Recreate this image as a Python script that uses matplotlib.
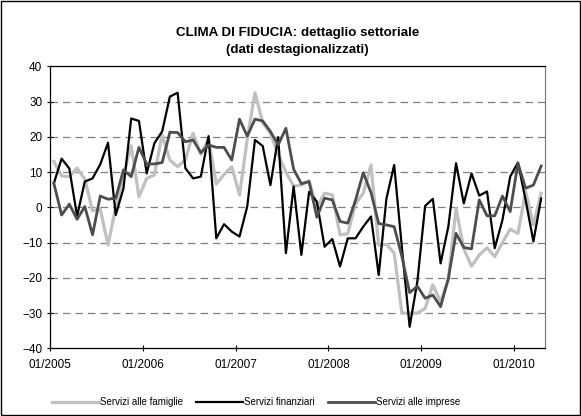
import matplotlib
matplotlib.use("Agg")
from matplotlib import pyplot as plt
from matplotlib.patches import Rectangle

plt.rcParams['font.family'] = ['Liberation Sans', 'DejaVu Sans']

# === Data (monthly, 01/2005 - 04/2010) ===
tick_labels = ["01/2005", "01/2006", "01/2007", "01/2008", "01/2009", "01/2010"]
series_names = ["Servizi alle famiglie", "Servizi finanziari", "Servizi alle imprese"]

famiglie = [13, 8.9, 8.7, 11.1, 8, -1, -0.5, -10.7, 0, 9, 17.4, 3,
            8.2, 9.2, 20.5, 13.4, 11.5, 13.5, 21, 15, 19.5, 6.6, 9.3, 11.5,
            3.5, 19.3, 32.5, 24, 21, 15, 10, 6, 6.3, 7.5, 0, 4,
            3.5, -7.8, -7.5, 1, 4, 12, -10.8, -10.5, -13, -30, -30, -30,
            -28.7, -22, -26.8, -20.6, -0.3, -11.8, -16.7, -13.5, -11.5, -14, -10, -6.2,
            -7.4, 4.5, -5, 4]

finanziari = [6.8, 13.8, 11, -2.5, 7.3, 8.2, 12.2, 18.3, -2.2, 5.4, 25.2, 24.5,
              9.6, 18.2, 21.5, 31.4, 32.5, 11.1, 8.2, 8.7, 20.2, -8.8, -4.8, -6.9,
              -8.3, 0.2, 19.1, 17.4, 6.3, 19.9, -13, 5.9, -13.5, 4.4, 1.6, -11.2,
              -9, -16.8, -8.8, -8.8, -5.5, -2.6, -19.2, 2.5, 12, -11.5, -33.9, -21,
              0.4, 2.4, -15.9, -5.5, 12.5, 1.1, 9.6, 3.3, 4.5, -11.6, -3.6, 8.7,
              12.7, 2, -9.7, 2.5]

imprese = [6.8, -2.2, 0.9, -3.4, 0.2, -7.8, 3.2, 2.3, 2.6, 10.6, 8.7, 17,
           12.3, 12.3, 12.7, 21.3, 21.2, 18.6, 19.1, 15.5, 17.7, 17, 17, 13.4,
           25, 20.2, 25, 24.5, 21.5, 17.7, 22.4, 10.8, 6.7, 7.3, -2.8, 2.6,
           2.1, -4, -4.5, 2, 9.8, 4.2, -4.6, -5, -5.5, -14, -24.2, -22.4,
           -25.8, -24.9, -28.2, -20.2, -7.4, -11.4, -11.8, 2.1, -2.4, -2.4, 3.2, -1.2,
           12.5, 5.4, 6.3, 11.7]

x = list(range(len(famiglie)))

fig = plt.figure(figsize=(5.81, 4.16), dpi=100)
ax = fig.add_axes([50 / 581, 1 - 348.3 / 416, 495 / 581, (348.3 - 66.3) / 416])

ax.plot(x, famiglie, color="#c0c0c0", lw=2.3, label=series_names[0], zorder=3)
ax.plot(x, finanziari, color="black", lw=1.6, label=series_names[1], zorder=4)
ax.plot(x, imprese, color="#4d4d4d", lw=2.0, label=series_names[2], zorder=5)

ax.set_xlim(-0.5, len(x) - 0.5)
ax.set_ylim(-40, 40)
ax.set_yticks(range(-40, 41, 10))
ax.set_xticks([-0.5 + 12 * k for k in range(len(tick_labels))])
ax.set_xticklabels(tick_labels)
ax.tick_params(axis="both", direction="inout", length=5, width=0.8,
               labelsize=8.5, colors="black")
ax.tick_params(axis="x", pad=5)
ax.tick_params(axis="y", pad=3)

for v in range(-30, 31, 10):
    ax.axhline(v, color="#808080", lw=0.9, dashes=(6, 4), zorder=1)

for side in ["left", "bottom", "top"]:
    ax.spines[side].set_color("black")
    ax.spines[side].set_linewidth(0.9)
ax.spines["right"].set_color("#808080")
ax.spines["right"].set_linewidth(0.9)

fig.text(297.5 / 581, 1 - 33 / 416, "CLIMA DI FIDUCIA: dettaglio settoriale",
         ha="center", va="center", fontsize=9.6, fontweight="bold")
fig.text(297.5 / 581, 1 - 50 / 416, "(dati destagionalizzati)",
         ha="center", va="center", fontsize=9.6, fontweight="bold")

fig.legend(loc="center", bbox_to_anchor=(256 / 581, 1 - 402 / 416), ncol=3,
           frameon=False, fontsize=7, handlelength=4.8, handletextpad=0.1,
           columnspacing=1.4)

fig.patches.append(Rectangle((0.001, 0.002), 0.997, 0.996, transform=fig.transFigure,
                             fill=False, edgecolor="black", lw=1))

fig.savefig("out.png", dpi=100)
